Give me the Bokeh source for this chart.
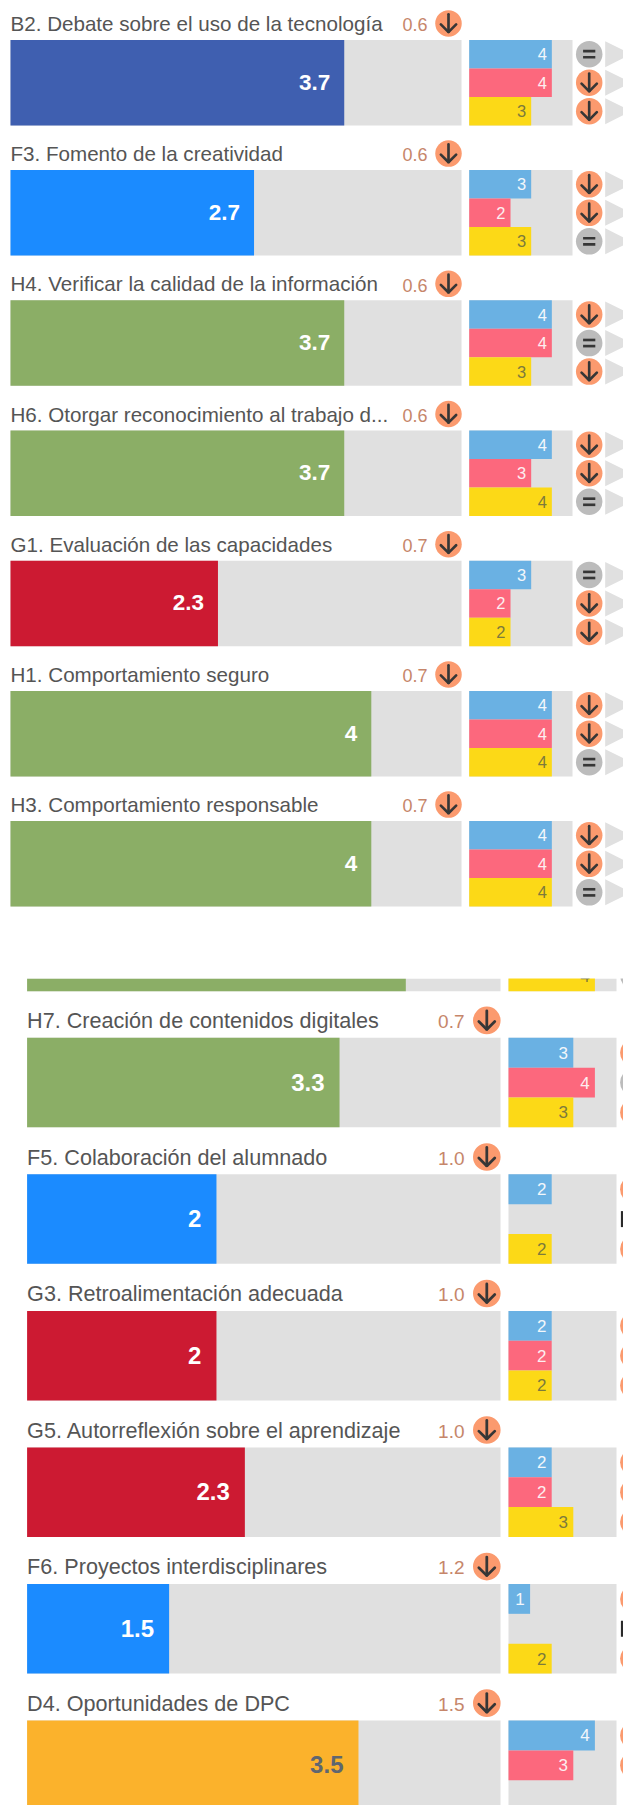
from bokeh.plotting import figure
from bokeh.models import Range1d
from bokeh.core.properties import value
from bokeh.embed import file_html
from bokeh.resources import INLINE

# ---- data ----
top_labels = ["B2. Debate sobre el uso de la tecnología", "F3. Fomento de la creatividad",
              "H4. Verificar la calidad de la información", "H6. Otorgar reconocimiento al trabajo d...",
              "G1. Evaluación de las capacidades", "H1. Comportamiento seguro", "H3. Comportamiento responsable"]
top_area = ["B", "F", "H", "H", "G", "H", "H"]
top_score = [3.7, 2.7, 3.7, 3.7, 2.3, 4, 4]
top_gap = ["0.6", "0.6", "0.6", "0.6", "0.7", "0.7", "0.7"]
top_blue = [4, 3, 4, 4, 3, 4, 4]
top_red = [4, 2, 4, 3, 2, 4, 4]
top_yellow = [3, 3, 3, 4, 2, 4, 4]
top_status = [["eq", "down", "down"], ["down", "down", "eq"], ["down", "eq", "down"], ["down", "down", "eq"],
              ["eq", "down", "down"], ["down", "down", "eq"], ["down", "down", "eq"]]

bot_labels = ["H7. Creación de contenidos digitales", "F5. Colaboración del alumnado",
              "G3. Retroalimentación adecuada", "G5. Autorreflexión sobre el aprendizaje",
              "F6. Proyectos interdisciplinares", "D4. Oportunidades de DPC"]
bot_area = ["H", "F", "G", "G", "F", "D"]
bot_score = [3.3, 2, 2, 2.3, 1.5, 3.5]
bot_gap = ["0.7", "1.0", "1.0", "1.0", "1.2", "1.5"]
bot_blue = [3, 2, 2, 2, 1, 4]
bot_red = [4, None, 2, 2, None, 3]
bot_yellow = [3, 2, 2, 3, 2, None]
bot_status = [["down", "eq", "down"], ["down", "na", "down"], ["down", "down", "down"],
              ["down", "down", "down"], ["down", "na", "down"], ["down", "down", None]]

# repeated row cut off by the page break: H3 in the lower capture
frag_score = 4
frag_yellow = 4

area_colors = {"B": "#3f5fb0", "F": "#1b8bff", "H": "#8bae66", "G": "#cc1a32", "D": "#fbb22c"}
sub_colors = ["#6ab1e3", "#fc687d", "#fcd917"]
sub_text = ["#f2f7fb", "#fdeef0", "#7d7a3c"]
TRACK = "#e0e0e0"
ORANGE = "#fb9a6e"
GREY = "#bcbcbc"
DARK = "#363636"
FONT = value("Liberation Sans")
VMAX = 5
PAGE_W, PAGE_H = 623, 1805

# ---- figure: default ranges are page pixels, extra ranges are the value scales ----
p = figure(width=PAGE_W, height=PAGE_H, x_range=Range1d(0, PAGE_W), y_range=Range1d(PAGE_H, 0),
           toolbar_location=None, output_backend="svg", min_border=0)
p.axis.visible = False
p.grid.visible = False
p.outline_line_color = None
p.background_fill_color = "#ffffff"


def scale(name, left, right):
    unit = (right - left) / VMAX
    p.extra_x_ranges[name] = Range1d((0 - left) / unit, (PAGE_W - left) / unit)


scale("big_top", 10, 461)
scale("small_top", 468.7, 572)
scale("big_bot", 26.6, 500)
scale("small_bot", 508, 616)


def bars(name, tops, bottoms, lefts, rights, color):
    p.quad(left=lefts, right=rights, top=tops, bottom=bottoms, x_range_name=name,
           fill_color=color, line_color=None)


def label(name, xs, ys, texts, color, size, bold=False, align="right", off=0):
    p.text(x=xs, y=ys, text=texts, x_range_name=name, text_color=color, text_font=FONT,
           text_font_size=f"{size}px", text_font_style="bold" if bold else "normal",
           text_align=align, text_baseline="middle", x_offset=off)


def icon(cx, cy, kind, d):
    k = d / 26
    if kind == "na":
        p.segment([cx - 11.5], [cy - 8], [cx - 11.5], [cy + 8], line_color="#2a2a2a", line_width=3)
        return
    p.scatter([cx], [cy], size=d, marker="circle", fill_color=ORANGE if kind == "down" else GREY, line_color=None)
    if kind == "down":
        p.multi_line([[cx, cx], [cx - 7.5 * k, cx, cx + 7.5 * k]],
                     [[cy - 9 * k, cy + 8.5 * k], [cy + 1 * k, cy + 8.5 * k, cy + 1 * k]],
                     line_color=DARK, line_width=2.6 * k, line_cap="round")
    else:
        p.multi_line([[cx - 6 * k, cx + 6 * k], [cx - 6 * k, cx + 6 * k]],
                     [[cy - 3 * k, cy - 3 * k], [cy + 3 * k, cy + 3 * k]],
                     line_color=DARK, line_width=2.6 * k)


def panel(labels, areas, scores, gaps, blue, red, yellow, status, big, small, y0, pitch, h, cfg):
    for i, lab in enumerate(labels):
        t = y0 + i * pitch
        b = t + h
        s = h / 3
        tc = t + cfg["title_dy"]
        label(big, [0], [tc - cfg["title_up"]], [lab], "#555555", cfg["title"], align="left")
        label("default", [cfg["gap_x"]], [tc + 0.5], [gaps[i]], "#c6866a", cfg["gap"])
        icon(cfg["head_x"], tc - 0.8, "down", cfg["d"])
        bars(big, [t], [b], [0], [VMAX], TRACK)
        bars(big, [t], [b], [0], [scores[i]], area_colors[areas[i]])
        txt = f"{scores[i]:g}"
        label(big, [scores[i]], [t + h / 2 - 0.5], [txt], "#5f6670" if areas[i] == "D" else "#ffffff",
              cfg["big"], bold=True, off=-cfg["big_pad"])
        bars(small, [t], [b], [0], [VMAX], TRACK)
        for j, vals in enumerate((blue, red, yellow)):
            st = t + j * s
            v = vals[i]
            if v is not None:
                bars(small, [st], [st + s], [0], [v], sub_colors[j])
                label(small, [v], [st + s / 2], [str(v)], sub_text[j], cfg["small"], off=-cfg["small_pad"])
            if status[i][j] is not None:
                icon(cfg["ic_x"], st + s / 2, status[i][j], cfg["d"])
            if cfg["tri"]:
                cy = st + s / 2
                p.patch([604.7, 631, 604.7], [cy - 13, cy, cy + 13], fill_color=TRACK, line_color=None)


# lower capture: the cut-off row first, then a white strip hides its top
cut = 978
frag_bottom = 990.7
frag_row = 900.8
bars("big_bot", [cut], [frag_bottom], [0], [VMAX], TRACK)
bars("big_bot", [cut], [frag_bottom], [0], [frag_score], area_colors["H"])
bars("small_bot", [cut], [frag_bottom], [0], [VMAX], TRACK)
bars("small_bot", [cut - 12], [frag_bottom], [0], [frag_yellow], sub_colors[2])
label("small_bot", [frag_yellow], [frag_row + 89.6 * 5 / 6], [str(frag_yellow)], sub_text[2], 17, off=-5.3)
icon(633.4, frag_row + 89.6 * 5 / 6, "eq", 27.4)
p.quad(left=[0], right=[PAGE_W], top=[906], bottom=[cut], fill_color="#ffffff", line_color=None)

panel(top_labels, top_area, top_score, top_gap, top_blue, top_red, top_yellow, top_status,
      "big_top", "small_top", 39.4, 130.2, 85.5,
      dict(title_dy=-15.7, title_up=0.8, title=20.6, gap_x=427, gap=18, head_x=448, d=26.5, big=22.5, big_pad=14,
           small=16.5, small_pad=5, ic_x=588.7, tri=True))
panel(bot_labels, bot_area, bot_score, bot_gap, bot_blue, bot_red, bot_yellow, bot_status,
      "big_bot", "small_bot", 1037.3, 136.55, 89.5,
      dict(title_dy=-16.6, title_up=0.5, title=21.6, gap_x=464, gap=19, head_x=486.3, d=27.6, big=24, big_pad=15,
           small=17, small_pad=5.3, ic_x=633.4, tri=False))

open("out.html", "w").write(file_html(p, INLINE))
